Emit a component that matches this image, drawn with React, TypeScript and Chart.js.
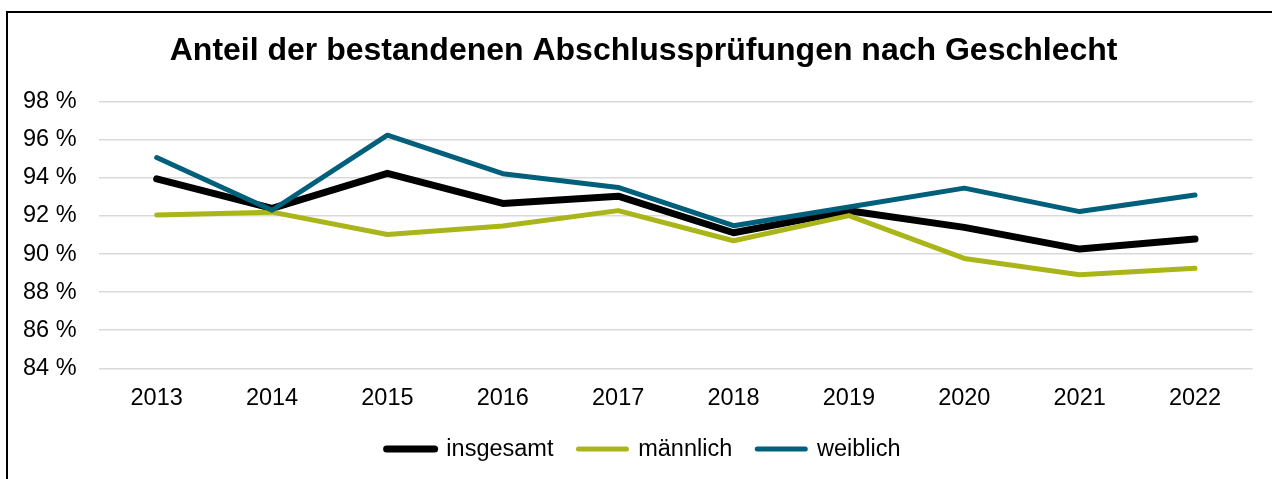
import React, { useEffect, useRef } from 'react';
import { Chart, registerables } from 'chart.js';

Chart.register(...registerables);

// ---- data ----
const years = ['2013', '2014', '2015', '2016', '2017', '2018', '2019', '2020', '2021', '2022'];
const insgesamt = [93.95, 92.4, 94.24, 92.66, 93.04, 91.12, 92.27, 91.4, 90.26, 90.79];
const maennlich = [92.05, 92.2, 91.03, 91.47, 92.28, 90.7, 92.02, 89.77, 88.91, 89.25];
const weiblich = [95.07, 92.3, 96.24, 94.22, 93.5, 91.49, 92.47, 93.46, 92.23, 93.1];
const yTickValues = [84, 86, 88, 90, 92, 94, 96, 98];
const seriesNames = ['insgesamt', 'männlich', 'weiblich'];
const titleText = 'Anteil der bestandenen Abschlussprüfungen nach Geschlecht';

const colors = ['#000000', '#aab519', '#005f7a'];
const widths = [7, 5, 5];
const FAMILY = "'Liberation Sans', Arial, sans-serif";

export default function App() {
  const ref = useRef<HTMLCanvasElement>(null);

  useEffect(() => {
    const seriesData = [insgesamt, maennlich, weiblich];
    const datasets = seriesData.map((d, i) => ({
      label: seriesNames[i],
      data: d,
      borderColor: colors[i],
      backgroundColor: colors[i],
      borderWidth: widths[i],
      pointRadius: 0,
      pointHoverRadius: 0,
      pointBorderWidth: widths[i],
      tension: 0,
      fill: false,
      borderCapStyle: 'round' as const,
      borderJoinStyle: 'round' as const,
      order: 2 - i,
    }));

    const defaultGen = (Chart.defaults.plugins.legend.labels as any).generateLabels;

    const chart = new Chart(ref.current!, {
      type: 'line',
      data: { labels: years, datasets },
      options: {
        responsive: false,
        animation: false,
        layout: { padding: { left: 34.5, right: 19.3, top: 11, bottom: 8.2 } },
        plugins: {
          title: {
            display: true,
            text: titleText,
            color: '#000',
            font: { family: FAMILY, size: 32, weight: 'bold' },
            padding: { top: 20.8, bottom: 31.5 },
          },
          legend: {
            position: 'bottom',
            labels: {
              usePointStyle: true,
              pointStyle: 'line',
              pointStyleWidth: 48,
              color: '#000',
              font: { family: FAMILY, size: 23.5 },
              padding: 25,
              sort: (a: any, b: any) => a.datasetIndex - b.datasetIndex,
              generateLabels: (c: any) =>
                defaultGen(c).map((l: any) => ({
                  ...l,
                  lineWidth: widths[l.datasetIndex],
                  strokeStyle: colors[l.datasetIndex],
                  fillStyle: colors[l.datasetIndex],
                  lineCap: 'round',
                })),
            },
          },
          tooltip: { enabled: false },
        },
        scales: {
          x: {
            offset: true,
            grid: { display: false, drawTicks: false },
            border: { display: false },
            ticks: {
              color: '#000',
              font: { family: FAMILY, size: 23.5 },
              padding: 15.9,
              maxRotation: 0,
              autoSkip: false,
            },
            afterFit: (s: any) => {
              s.height -= 16;
            },
          },
          y: {
            min: 84,
            max: 98,
            afterBuildTicks: (s: any) => {
              s.ticks = yTickValues.map((v) => ({ value: v }));
            },
            grid: { color: '#d9d9d9', lineWidth: 1.5, drawTicks: false },
            border: { display: false },
            ticks: {
              color: '#000',
              font: { family: FAMILY, size: 23.5 },
              mirror: true,
              crossAlign: 'near',
              padding: -76,
              callback: (v: any) => v + ' %',
            },
            afterFit: (s: any) => {
              s.width = 64.5;
            },
          },
        },
      },
    });
    return () => chart.destroy();
  }, []);

  return (
    <div style={{ position: 'fixed', left: 0, top: 0, width: 1272, height: 479, background: '#fff', overflow: 'hidden' }}>
      <div
        style={{
          position: 'absolute',
          left: 6,
          top: 11,
          width: 1272,
          height: 479,
          borderTop: '2px solid #000',
          borderLeft: '2px solid #000',
        }}
      />
      <canvas ref={ref} width={1272} height={479} style={{ position: 'absolute', left: 0, top: 0, display: 'block' }} />
    </div>
  );
}
